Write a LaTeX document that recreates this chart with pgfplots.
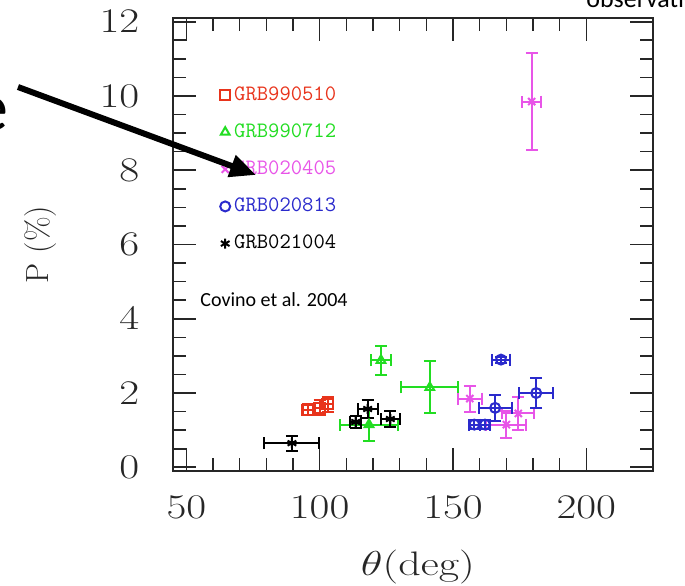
\documentclass[border=0pt]{standalone}
\usepackage{pgfplots}
\pgfplotsset{compat=1.18}
\usepackage{fontspec}
\newfontfamily\slidefont{Carlito}
\usetikzlibrary{arrows.meta}

\definecolor{cRed}{RGB}{232,52,28}
\definecolor{cGreen}{RGB}{34,221,34}
\definecolor{cMag}{RGB}{232,85,232}
\definecolor{cBlue}{RGB}{42,42,204}

% x y ex ey
\pgfplotstableread{
x y ex ey
95.5 1.55 2.0 0.15
100.0 1.60 2.0 0.20
103.0 1.70 2.0 0.20
}\grbA
\pgfplotstableread{
x y ex ey
123.0 2.88 3.7 0.40
118.5 1.15 10.7 0.43
141.3 2.15 10.7 0.70
}\grbB
\pgfplotstableread{
x y ex ey
179.5 9.85 3.5 1.30
156.3 1.85 4.5 0.35
174.5 1.45 6.0 0.45
170.0 1.15 7.5 0.37
}\grbC
\pgfplotstableread{
x y ex ey
168.0 2.90 3.5 0.08
181.2 2.00 6.4 0.40
165.8 1.60 6.2 0.35
158.0 1.15 2.0 0.13
162.0 1.15 2.0 0.13
}\grbD
\pgfplotstableread{
x y ex ey
89.6 0.65 10.3 0.20
118.0 1.57 3.7 0.25
113.5 1.22 2.0 0.15
126.5 1.30 3.5 0.22
}\grbE

\begin{document}
\begin{tikzpicture}
\useasboundingbox (0,0) rectangle (342.5pt,292.5pt);
\begin{axis}[
  at={(86.5pt,57pt)}, anchor=south west,
  scale only axis, width=240pt, height=226.5pt,
  xmin=45, xmax=225, ymin=-0.1, ymax=12.1,
  xtick={50,100,150,200}, minor x tick num=4,
  ytick={0,2,...,12}, minor y tick num=3,
  tick align=inside, xtick pos=both, ytick pos=both,
  major tick length=11.5pt, minor tick length=6.5pt,
  axis line style={line width=1pt, black!85},
  every tick/.style={line width=0.8pt, black!85},
  tick label style={font=\fontsize{16}{16}\selectfont, xscale=1.25, black!85},
  xticklabel style={yshift=-9pt},
  yticklabel style={xshift=-10pt},
  xlabel={$\theta$(deg)},
  ylabel={P\ (\%)},
  xlabel style={font=\fontsize{17}{17}\selectfont, xscale=1.3, black!85,
    at={(axis description cs:0.51,-0.212)}, anchor=center},
  ylabel style={font=\fontsize{16}{16}\selectfont, black!85,
    at={(axis description cs:-0.275,0.5)}, anchor=center},
  legend style={at={(0.085,0.867)}, anchor=north west, draw=none, fill=none,
    font=\fontsize{11}{13}\ttfamily, row sep=6.2pt},
  legend cell align=left,
  error bars/error bar style={line width=1pt},
  error bars/error mark options={rotate=90, mark size=3pt, line width=1pt},
]
\addplot[only marks, cRed, mark=square, mark size=2.5pt, line width=1pt,
  error bars/.cd, x dir=both, x explicit, y dir=both, y explicit]
  table[x=x, y=y, x error=ex, y error=ey] {\grbA};
\addlegendentry{\textcolor{cRed}{GRB990510}}
\addplot[only marks, cGreen, mark=triangle, mark size=2.5pt, line width=1pt,
  error bars/.cd, x dir=both, x explicit, y dir=both, y explicit]
  table[x=x, y=y, x error=ex, y error=ey] {\grbB};
\addlegendentry{\textcolor{cGreen}{GRB990712}}
\addplot[only marks, cMag, mark=x, mark size=2.5pt, line width=1pt,
  error bars/.cd, x dir=both, x explicit, y dir=both, y explicit]
  table[x=x, y=y, x error=ex, y error=ey] {\grbC};
\addlegendentry{\textcolor{cMag}{GRB020405}}
\addplot[only marks, cBlue, mark=o, mark size=2.5pt, line width=1pt,
  error bars/.cd, x dir=both, x explicit, y dir=both, y explicit]
  table[x=x, y=y, x error=ex, y error=ey] {\grbD};
\addlegendentry{\textcolor{cBlue}{GRB020813}}
\addplot[only marks, black, mark=asterisk, mark size=2.5pt, line width=1pt,
  error bars/.cd, x dir=both, x explicit, y dir=both, y explicit]
  table[x=x, y=y, x error=ex, y error=ey] {\grbE};
\addlegendentry{\textcolor{black}{GRB021004}}
\end{axis}
% slide overlays
\node[anchor=base west, inner sep=0pt, font=\slidefont\fontsize{10}{12}\selectfont]
  at (100pt,139.5pt) {Covino et al. 2004};
\node[anchor=base east, inner sep=0pt, font=\slidefont\fontsize{34}{38}\selectfont]
  at (4.5pt,227pt) {e};
\node[anchor=base west, inner sep=0pt, font=\slidefont\fontsize{13}{15}\selectfont]
  at (293pt,288.5pt) {observations};
\draw[line width=3pt, -{Triangle[length=13pt, width=11pt]}]
  (9pt,249pt) -- (128pt,205pt);
\end{tikzpicture}
\end{document}
